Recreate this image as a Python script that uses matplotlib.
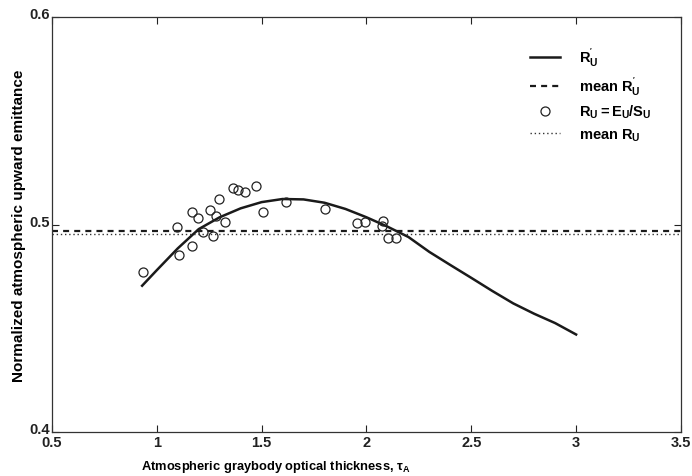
import matplotlib
matplotlib.use("Agg")
import matplotlib.pyplot as plt
import matplotlib.transforms as mtransforms

# fitted curve R'_U
tau_fit = [0.93, 1.0, 1.1, 1.2, 1.3, 1.4, 1.5, 1.6, 1.7, 1.8, 1.9, 2.0,
           2.1, 2.2, 2.3, 2.4, 2.5, 2.6, 2.7, 2.8, 2.9, 3.0]
r_fit = [0.4705, 0.4780, 0.4885, 0.4978, 0.5035, 0.5078, 0.5108, 0.5123,
         0.5121, 0.5105, 0.5075, 0.5035, 0.4990, 0.4940, 0.4868, 0.4805,
         0.4743, 0.4680, 0.4620, 0.4570, 0.4525, 0.4470]

# measured R_U = E_U / S_U
tau_obs = [0.935, 1.095, 1.107, 1.166, 1.166, 1.198, 1.218, 1.253, 1.266,
           1.282, 1.295, 1.325, 1.365, 1.388, 1.42, 1.473, 1.508, 1.616,
           1.802, 1.955, 1.995, 2.072, 2.08, 2.104, 2.14]
r_obs = [0.477, 0.499, 0.4855, 0.4895, 0.506, 0.503, 0.4965, 0.5072, 0.4946,
         0.5042, 0.5123, 0.5013, 0.5176, 0.5168, 0.5155, 0.5187, 0.5059,
         0.5107, 0.5075, 0.5007, 0.501, 0.4994, 0.5018, 0.4933, 0.4933]

mean_fit = 0.4968
mean_obs = 0.4956

xticks = [0.5, 1, 1.5, 2, 2.5, 3, 3.5]
xticklabels = ["0.5", "1", "1.5", "2", "2.5", "3", "3.5"]
yticks = [0.4, 0.5, 0.6]
yticklabels = ["0.4", "0.5", "0.6"]

plt.rcParams["font.family"] = ["Liberation Sans", "DejaVu Sans"]
plt.rcParams["font.weight"] = "bold"
plt.rcParams["mathtext.fontset"] = "custom"
plt.rcParams["mathtext.rm"] = "Liberation Sans:bold"
plt.rcParams["mathtext.it"] = "Liberation Sans:bold"
plt.rcParams["mathtext.bf"] = "Liberation Sans:bold"

fig = plt.figure(figsize=(6.92, 4.77), dpi=100)
ax = fig.add_axes([0.0751, 0.0922, 0.9089, 0.8700])

ax.plot(tau_fit, r_fit, color="#1a1a1a", lw=1.8, label=r"$\mathrm{R}^{'}_{\mathrm{U}}$")
ax.axhline(mean_fit, color="#1a1a1a", lw=1.6, ls=(0, (2.7, 2.3)),
           label=r"mean $\mathrm{R}^{'}_{\mathrm{U}}$")
ax.plot(tau_obs, r_obs, ls="none", marker="o", ms=6.5, mfc="none",
        mec="#222222", mew=0.9, label=r"$\mathrm{R_U = E_U/S_U}$")
ax.axhline(mean_obs, color="#333333", lw=1.0, ls=(0, (1, 2)),
           label=r"mean $\mathrm{R_U}$")

ax.set_xlim(0.5, 3.5)
ax.set_ylim(0.4, 0.6)
ax.set_xticks(xticks)
ax.set_xticklabels(xticklabels)
ax.set_yticks(yticks)
ax.set_yticklabels(yticklabels)
ax.tick_params(direction="in", length=5, width=0.8, labelsize=10.5,
               top=True, right=True, pad=1.5, colors="#222222")
ax.tick_params(axis="x", pad=2.5)
# y tick labels sit a little above their ticks, as in the original
shift = mtransforms.ScaledTranslation(0, 3 / 72, fig.dpi_scale_trans)
for lab in ax.get_yticklabels():
    lab.set_transform(lab.get_transform() + shift)
for s in ax.spines.values():
    s.set_color("#333333")
    s.set_linewidth(0.9)

ax.set_xlabel(r"Atmospheric graybody optical thickness, $\tau_\mathrm{A}$",
              fontsize=9.3, fontweight="bold")
ax.xaxis.set_label_coords(0.356, -0.062)
ax.set_ylabel("Normalized atmospheric upward emittance", fontsize=11,
              fontweight="bold", labelpad=2)

ax.legend(loc="upper right", bbox_to_anchor=(0.975, 0.963), frameon=False,
          fontsize=10.5, handlelength=2.1, labelspacing=0.42,
          handletextpad=1.3)

fig.savefig("out.png", dpi=100)
